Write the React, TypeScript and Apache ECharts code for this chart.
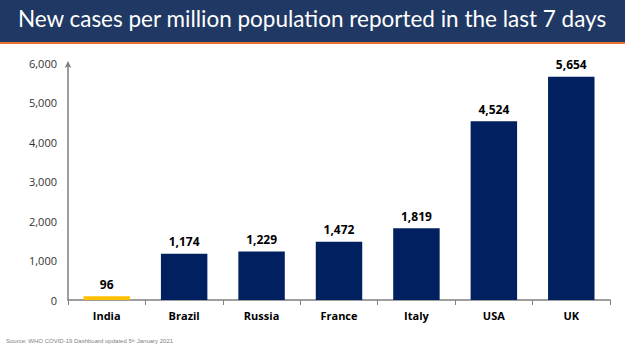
import React, { useEffect, useRef } from "react";
import * as echarts from "echarts";

const categories = ["India", "Brazil", "Russia", "France", "Italy", "USA", "UK"];
const values = [96, 1174, 1229, 1472, 1819, 4524, 5654];
const highlight = "India";
const titleText = "New cases per million population reported in the last 7 days";

export default function App() {
  const ref = useRef<HTMLDivElement>(null);
  useEffect(() => {
    if (!ref.current) return;
    const chart = echarts.init(ref.current, null, { renderer: "svg" });
    chart.setOption({
      animation: false,
      backgroundColor: "#ffffff",
      graphic: [
        { type: "rect", left: 0, top: 0, shape: { width: 625, height: 42 }, style: { fill: "#1f3864" } },
        { type: "rect", left: 0, top: 42, shape: { width: 625, height: 2 }, style: { fill: "#e97132" } },
        {
          type: "text",
          left: "center",
          top: 7,
          style: { text: titleText, fill: "#ffffff", font: "22.5px Lato, 'Open Sans', sans-serif" },
        },
        {
          type: "text",
          left: 6,
          top: 338,
          style: {
            rich: { a: { fontSize: 6, fill: "#7f7f7f" }, s: { fontSize: 4, fill: "#7f7f7f", verticalAlign: "top" } },
            text: "{a|Source: WHO COVID-19 Dashboard updated 5}{s|th}{a| January 2021}",
            fontFamily: "Lato, sans-serif",
          },
        },
      ],
      grid: { left: 68, right: 15, top: 63, bottom: 51, containLabel: false },
      xAxis: {
        type: "category",
        data: categories,
        axisLine: { lineStyle: { color: "#7f7f7f", width: 1.5 } },
        axisTick: { show: true, length: 5, lineStyle: { color: "#7f7f7f" } },
        axisLabel: { color: "#000", fontWeight: "bold", fontSize: 11, fontFamily: "'Open Sans', sans-serif", margin: 10 },
      },
      yAxis: {
        type: "value",
        min: 0,
        max: 6000,
        interval: 1000,
        splitLine: { show: false },
        axisLine: {
          show: true,
          symbol: ["none", "arrow"],
          symbolSize: [5, 7],
          symbolOffset: [0, 2],
          lineStyle: { color: "#7f7f7f", width: 1.5 },
        },
        axisTick: { show: false },
        axisLabel: {
          color: "#333",
          fontSize: 11,
          fontFamily: "'Open Sans', sans-serif",
          margin: 11,
          formatter: (v: number) => v.toLocaleString("en-US"),
        },
      },
      series: [
        {
          type: "bar",
          barWidth: "60%",
          data: values.map((v, i) => ({
            value: v,
            itemStyle: { color: categories[i] === highlight ? "#ffc000" : "#002060" },
          })),
          label: {
            show: true,
            position: "top",
            distance: 6,
            color: "#000",
            fontWeight: "bold",
            fontSize: 12,
            fontFamily: "'Open Sans', sans-serif",
            formatter: (p: any) => Number(p.value).toLocaleString("en-US"),
          },
        },
      ],
    });
    return () => chart.dispose();
  }, []);
  return <div ref={ref} style={{ width: 625, height: 351, position: "fixed", left: 0, top: 0 }} />;
}
